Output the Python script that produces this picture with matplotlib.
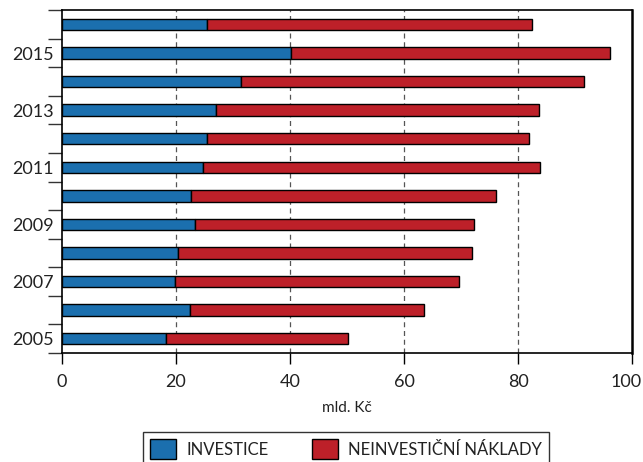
import numpy as np
import matplotlib.pyplot as plt
import matplotlib.transforms as mtransforms

# data (mld. Kc)
years = [2005, 2006, 2007, 2008, 2009, 2010, 2011, 2012, 2013, 2014, 2015, 2016]
investice = [18.2, 22.5, 19.9, 20.3, 23.4, 22.6, 24.8, 25.5, 27.1, 31.4, 40.1, 25.4]
celkem = [50.1, 63.5, 69.6, 71.9, 72.2, 76.1, 83.8, 82.0, 83.6, 91.5, 96.2, 82.5]
neinvesticni = [c - i for c, i in zip(celkem, investice)]
year_labels = ['2005', '', '2007', '', '2009', '', '2011', '', '2013', '', '2015', '']

blue = '#1b6fae'
red = '#bd2029'

plt.rcParams['font.family'] = ['Lato', 'DejaVu Sans']

fig = plt.figure(figsize=(6.43, 4.62), dpi=100)
ax = fig.add_axes([0.0964, 0.236, 0.8865, 0.742])

y = np.arange(len(years))
ax.barh(y, investice, height=0.4, color=blue, edgecolor='black', linewidth=1,
        label='INVESTICE', zorder=3)
ax.barh(y, neinvesticni, left=investice, height=0.4, color=red, edgecolor='black',
        linewidth=1, label='NEINVESTIČNÍ NÁKLADY', zorder=3)

ax.set_xlim(0, 100)
ax.set_ylim(-0.5, len(years) - 0.5)
ax.set_xticks([0, 20, 40, 60, 80, 100])
ax.tick_params(axis='x', direction='out', length=8, width=1, labelsize=13, pad=7,
               labelcolor='#222222')
# last label pushed left so it fits like in the original
last = ax.get_xticklabels()[-1]
last.set_horizontalalignment('right')
last.set_transform(last.get_transform() + mtransforms.ScaledTranslation(0.1, 0, fig.dpi_scale_trans))

# ticks at category borders, labels in the middle
ax.set_yticks(np.arange(-0.5, len(years), 1.0))
ax.set_yticklabels([])
ax.tick_params(axis='y', which='major', direction='out', length=10, width=1, color='#333333')
ax.set_yticks(y, minor=True)
ax.set_yticklabels(year_labels, minor=True)
ax.tick_params(axis='y', which='minor', length=0, labelsize=13, pad=6, labelcolor='#222222')

for x in [20, 40, 60, 80]:
    ax.axvline(x, color='#555555', linestyle=(0, (4, 3)), linewidth=0.9, zorder=1)

for s in ax.spines.values():
    s.set_linewidth(1.2)
    s.set_color('black')
ax.spines['right'].set_linewidth(1.8)

ax.set_xlabel('mld. Kč', fontsize=11, labelpad=8, color='#222222')

leg = fig.legend(loc='upper center', bbox_to_anchor=(0.538, 0.082), ncol=2,
                 frameon=True, fancybox=False, edgecolor='black', fontsize=12,
                 handlelength=1.6, handleheight=1.5, columnspacing=2.6,
                 borderpad=0.4, handletextpad=0.6)
leg.get_frame().set_linewidth(1)
for t in leg.get_texts():
    t.set_color('#222222')

fig.savefig('out.png', dpi=100)
